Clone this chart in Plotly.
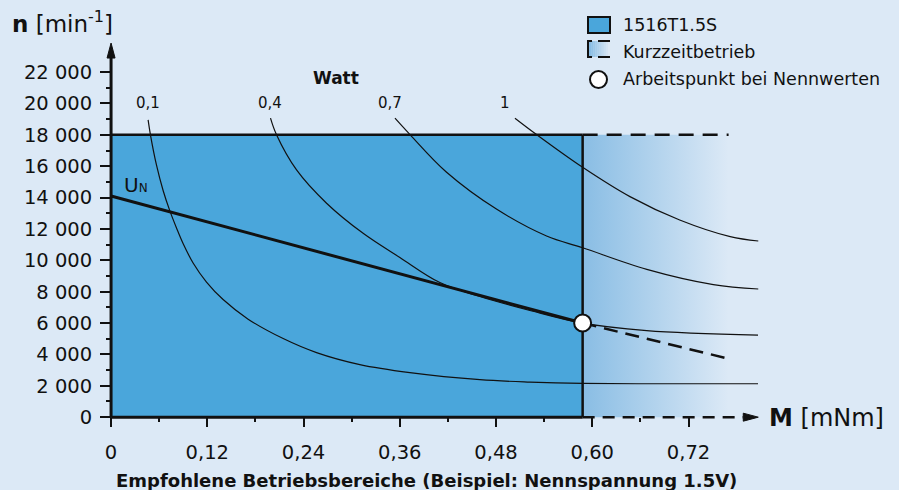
import plotly.graph_objects as go

# ---------------- data ----------------
X_TICKS = [0, 0.12, 0.24, 0.36, 0.48, 0.60, 0.72]
X_LABELS = ["0", "0,12", "0,24", "0,36", "0,48", "0,60", "0,72"]
X_MINOR = [0.06, 0.18, 0.30, 0.42, 0.54, 0.66]
Y_TICKS = [0, 2000, 4000, 6000, 8000, 10000, 12000, 14000, 16000, 18000, 20000, 22000]
Y_LABELS = ["0", "2 000", "4 000", "6 000", "8 000", "10 000", "12 000", "14 000",
            "16 000", "18 000", "20 000", "22 000"]
Y_MINOR = [1000, 3000, 5000, 7000, 9000, 11000, 13000, 15000, 17000, 19000, 21000]

M_RATED = 0.588          # mNm, continuous limit (rated torque)
N_MAX = 18000            # min^-1, speed limit
M_SHORT = 0.77           # end of short-time operation zone
N_RATED = 6000           # working point speed

# speed/torque line at nominal voltage
UN_M = [0, 0.588]
UN_N = [14100, 6000]
UN_EXT_M = [0.588, 0.768]
UN_EXT_N = [6000, 3750]

# constant power curves (Watt)
P01_M = [0.0462, 0.0491, 0.0566, 0.0649, 0.0732, 0.0816, 0.0898, 0.1023, 0.119, 0.1397, 0.1709,
         0.2146, 0.2562, 0.3102, 0.3726, 0.4599, 0.5223, 0.588, 0.7094, 0.8067]
P01_N = [18950, 18000, 16080, 14450, 13165, 12060, 11070, 9830, 8615, 7500, 6250,
         5010, 4115, 3350, 2840, 2390, 2235, 2150, 2130, 2130]
P04_M = [0.1988, 0.2063, 0.2313, 0.2687, 0.3143, 0.3601, 0.41, 0.4599, 0.5223, 0.5846, 0.6678, 0.8067]
P04_N = [19060, 18000, 15760, 13640, 11720, 10180, 8580, 7690, 6800, 6030, 5520, 5230]
P07_M = [0.354, 0.373, 0.418, 0.481, 0.543, 0.588, 0.668, 0.751, 0.807]
P07_N = [19060, 18000, 15630, 13250, 11550, 10800, 9420, 8450, 8170]
P1_M = [0.5036, 0.531, 0.588, 0.647, 0.709, 0.772, 0.807]
P1_N = [19060, 18000, 15930, 14060, 12570, 11510, 11230]

CURVE_LABELS = ["0,1", "0,4", "0,7", "1"]
CURVE_LABEL_M = [0.046, 0.198, 0.348, 0.491]
CURVE_LABEL_N = 20050

AXIS_M_END = 0.807
AXIS_N_END = 23850

# ---------------- styling ----------------
BG = "#dce9f6"
BLUE = "#4aa6db"
GRAD0 = "rgb(137,189,228)"
FONT = "DejaVu Sans"
INK = "#111111"

W, H = 899, 490
ML, MR, MT, MB = 87, 10, 25, 54
XR = [-0.03, 0.97]
YR = [-1200, 25000]
PW, PH = W - ML - MR, H - MT - MB


def px(xp):
    return (xp - ML) / PW


def py(yp):
    return (H - MB - yp) / PH


mx_per_px = (XR[1] - XR[0]) / PW
ny_per_px = (YR[1] - YR[0]) / PH

fig = go.Figure()

# short-time operation zone (gradient)
fig.add_trace(go.Scatter(
    x=[M_RATED, M_SHORT, M_SHORT, M_RATED, M_RATED], y=[0, 0, N_MAX, N_MAX, 0],
    fill="toself", mode="lines", line=dict(width=0),
    fillgradient=dict(type="horizontal", colorscale=[[0, GRAD0], [1, BG]]),
    hoverinfo="skip", showlegend=False))

# continuous operation zone
fig.add_trace(go.Scatter(
    x=[0, M_RATED, M_RATED, 0, 0], y=[0, 0, N_MAX, N_MAX, 0],
    fill="toself", fillcolor=BLUE, mode="lines", line=dict(width=0),
    hoverinfo="skip", showlegend=False))

# power curves
for cm, cn in [(P01_M, P01_N), (P04_M, P04_N), (P07_M, P07_N), (P1_M, P1_N)]:
    fig.add_trace(go.Scatter(x=cm, y=cn, mode="lines",
                             line=dict(color=INK, width=1.2, shape="spline", smoothing=1.0),
                             hoverinfo="skip", showlegend=False))

# borders of continuous zone
fig.add_trace(go.Scatter(x=[0, M_RATED], y=[N_MAX, N_MAX], mode="lines",
                         line=dict(color=INK, width=2.5), showlegend=False, hoverinfo="skip"))
fig.add_trace(go.Scatter(x=[M_RATED, M_RATED], y=[0, N_MAX], mode="lines",
                         line=dict(color=INK, width=2.5), showlegend=False, hoverinfo="skip"))
fig.add_trace(go.Scatter(x=[M_RATED, M_SHORT], y=[N_MAX, N_MAX], mode="lines",
                         line=dict(color=INK, width=2.5, dash="15px,9px"), showlegend=False, hoverinfo="skip"))

# speed-torque line
fig.add_trace(go.Scatter(x=UN_M, y=UN_N, mode="lines",
                         line=dict(color=INK, width=3), showlegend=False, hoverinfo="skip"))
fig.add_trace(go.Scatter(x=UN_EXT_M, y=UN_EXT_N, mode="lines",
                         line=dict(color=INK, width=2.5, dash="14px,8px"), showlegend=False, hoverinfo="skip"))

# axes lines with arrows
fig.add_trace(go.Scatter(x=[0, M_RATED], y=[0, 0], mode="lines",
                         line=dict(color=INK, width=3), showlegend=False, hoverinfo="skip"))
head_len_m = 15 * mx_per_px
head_half_n = 4 * ny_per_px
fig.add_trace(go.Scatter(x=[M_RATED, AXIS_M_END - head_len_m], y=[0, 0], mode="lines",
                         line=dict(color=INK, width=2.5, dash="12px,8px"), showlegend=False, hoverinfo="skip"))
fig.add_trace(go.Scatter(
    x=[AXIS_M_END, AXIS_M_END - head_len_m, AXIS_M_END - head_len_m, AXIS_M_END],
    y=[0, head_half_n, -head_half_n, 0], fill="toself", fillcolor=INK, mode="lines",
    line=dict(color=INK, width=1), showlegend=False, hoverinfo="skip"))
head_len_n = 15 * ny_per_px
head_half_m = 4 * mx_per_px
fig.add_trace(go.Scatter(x=[0, 0], y=[0, AXIS_N_END - head_len_n], mode="lines",
                         line=dict(color=INK, width=3), showlegend=False, hoverinfo="skip"))
fig.add_trace(go.Scatter(
    x=[0, head_half_m, -head_half_m, 0],
    y=[AXIS_N_END, AXIS_N_END - head_len_n, AXIS_N_END - head_len_n, AXIS_N_END],
    fill="toself", fillcolor=INK, mode="lines",
    line=dict(color=INK, width=1), showlegend=False, hoverinfo="skip"))

# working point
fig.add_trace(go.Scatter(x=[M_RATED], y=[N_RATED], mode="markers",
                         marker=dict(size=17, color="white", line=dict(color=INK, width=2)),
                         showlegend=False, hoverinfo="skip"))

ann = []
for lbl, lm in zip(CURVE_LABELS, CURVE_LABEL_M):
    ann.append(dict(x=lm, y=CURVE_LABEL_N, xref="x", yref="y", text=lbl, font=dict(size=15)))
ann += [
    dict(x=px(336), y=py(78), text="<b>Watt</b>", font=dict(size=17)),
    dict(x=px(122), y=py(185), text="U<span style='font-size:12px'>N</span>", font=dict(size=20), xanchor="left"),
    dict(x=px(10), y=py(22), text="<b>n</b> [min<sup>-1</sup>]", font=dict(size=23), xanchor="left"),
    dict(x=px(767), y=py(418), text="<b>M</b> [mNm]", font=dict(size=24), xanchor="left"),
    dict(x=px(426), y=py(480), text="<b>Empfohlene Betriebsbereiche (Beispiel: Nennspannung 1.5V)</b>",
         font=dict(size=18)),
    dict(x=px(621), y=py(25), text="1516T1.5S", font=dict(size=17.5), xanchor="left"),
    dict(x=px(621), y=py(52), text="Kurzzeitbetrieb", font=dict(size=17.5), xanchor="left"),
    dict(x=px(621), y=py(79), text="Arbeitspunkt bei Nennwerten", font=dict(size=17.5), xanchor="left"),
]
for a in ann:
    a.setdefault("xref", "paper")
    a.setdefault("yref", "paper")
    a.setdefault("showarrow", False)
    a.setdefault("xanchor", "center")
    a.setdefault("yanchor", "middle")
    a["font"] = dict(family=FONT, color=INK, size=a["font"]["size"])

shapes = []
# legend: blue box
shapes.append(dict(type="rect", xref="paper", yref="paper", x0=px(588), x1=px(610), y0=py(33), y1=py(17),
                   fillcolor=BLUE, line=dict(color=INK, width=2)))
# legend: gradient box
n_steps = 10
c0 = [137, 189, 228]
c1 = [220, 233, 246]
for i in range(n_steps):
    t = i / (n_steps - 1)
    col = "rgb(%d,%d,%d)" % tuple(round(c0[k] + (c1[k] - c0[k]) * t) for k in range(3))
    xa = 589 + i * 21 / n_steps
    shapes.append(dict(type="rect", xref="paper", yref="paper", x0=px(xa), x1=px(xa + 21 / n_steps + 0.3),
                       y0=py(57), y1=py(41), fillcolor=col, line=dict(width=0), layer="below"))
shapes.append(dict(type="path", xref="paper", yref="paper",
                   path="M %f %f L %f %f L %f %f L %f %f" % (px(592), py(41), px(588), py(41), px(588), py(57), px(592), py(57)),
                   line=dict(color=INK, width=2)))
shapes.append(dict(type="line", xref="paper", yref="paper", x0=px(598), x1=px(610), y0=py(41), y1=py(41),
                   line=dict(color=INK, width=2)))
shapes.append(dict(type="line", xref="paper", yref="paper", x0=px(598), x1=px(610), y0=py(57), y1=py(57),
                   line=dict(color=INK, width=2)))
# legend: circle
shapes.append(dict(type="circle", xref="paper", yref="paper", x0=px(590), x1=px(607), y0=py(88), y1=py(71),
                   fillcolor="white", line=dict(color=INK, width=2)))

tickfont = dict(family=FONT, size=19.5, color=INK)
fig.update_layout(
    width=W, height=H, margin=dict(l=ML, r=MR, t=MT, b=MB, autoexpand=False),
    paper_bgcolor=BG, plot_bgcolor=BG, showlegend=False,
    annotations=ann, shapes=shapes,
    xaxis=dict(range=XR, anchor="free", position=(0 - YR[0]) / (YR[1] - YR[0]),
               tickmode="array", tickvals=X_TICKS, ticktext=X_LABELS,
               ticks="outside", ticklen=9, tickwidth=1.5, tickcolor=INK, ticklabelstandoff=8,
               minor=dict(tickmode="array", tickvals=X_MINOR, ticklen=4, tickwidth=1.5, tickcolor=INK, showgrid=False),
               showgrid=False, zeroline=False, showline=False, tickfont=tickfont, fixedrange=True),
    yaxis=dict(range=YR, anchor="free", position=(0 - XR[0]) / (XR[1] - XR[0]),
               tickmode="array", tickvals=Y_TICKS, ticktext=Y_LABELS,
               ticks="outside", ticklen=11, tickwidth=1.5, tickcolor=INK, ticklabelstandoff=4,
               minor=dict(tickmode="array", tickvals=Y_MINOR, ticklen=5, tickwidth=1.5, tickcolor=INK, showgrid=False),
               showgrid=False, zeroline=False, showline=False, tickfont=tickfont, fixedrange=True),
)

fig.write_html("out.html", config={"displayModeBar": False},
               post_script="document.body.style.margin='0';document.body.style.padding='0';"
                           "document.body.style.overflow='hidden';")
